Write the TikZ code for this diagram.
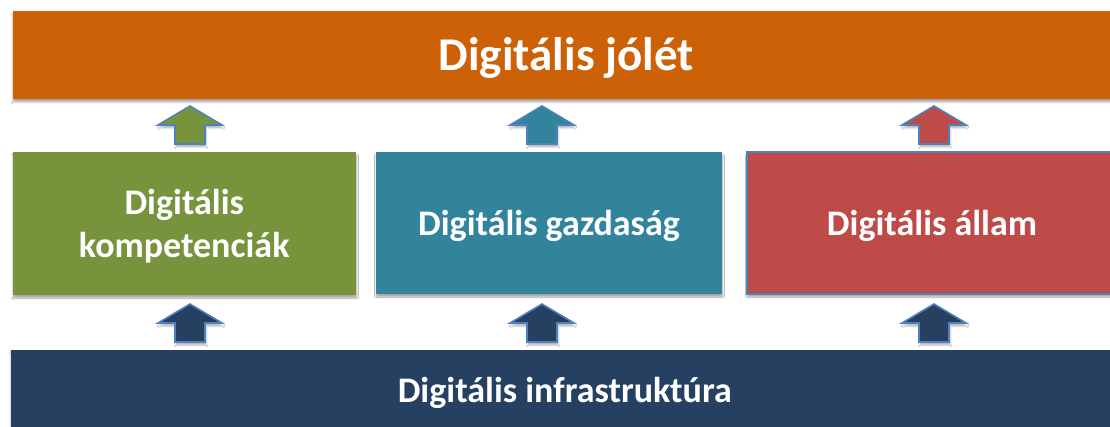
\documentclass[tikz,border=0pt]{standalone}
\usepackage{fontspec}
\setmainfont{Carlito}
\usetikzlibrary{shadows.blur}
\definecolor{cOrange}{HTML}{CD6108}
\definecolor{cGreen}{HTML}{77933C}
\definecolor{cTeal}{HTML}{31849B}
\definecolor{cRed}{HTML}{BE4B48}
\definecolor{cNavy}{HTML}{254061}
\definecolor{cOutline}{HTML}{4F81BD}
\tikzset{
  box/.style={rectangle, inner sep=0pt,
    blur shadow={shadow xshift=0.5pt, shadow yshift=-3pt, shadow blur steps=6, shadow opacity=35}},
  boxtext/.style={inner sep=0pt, text=white, font=\bfseries\fontsize{36}{43}\selectfont, align=center},
  blockarrow/.style={draw=cOutline, line width=1.6pt, line join=miter,
    blur shadow={shadow xshift=1pt, shadow yshift=-3pt, shadow blur steps=5, shadow opacity=30}},
  uparrow/.pic={\path[blockarrow, pic actions] (0,0) -- (32,19) -- (15,19) -- (15,38) -- (-15,38) -- (-15,19) -- (-32,19) -- cycle;}
}
\begin{document}
\begin{tikzpicture}[x=1pt,y=-1pt]
\useasboundingbox[fill=white] (0,0) rectangle (1110,427);
% boxes
\node[box, fill=cOrange, minimum width=1104.5pt, minimum height=87.5pt] (jolet) at (564.75,55.25) {};
\node[box, fill=cGreen, minimum width=343.5pt, minimum height=143pt] (komp) at (184.25,223.5) {};
\node[box, fill=cTeal, minimum width=346pt, minimum height=142pt] (gazd) at (549,223) {};
\node[box, fill=cRed, draw=cOutline, line width=1.2pt, minimum width=370pt, minimum height=142pt] (allam) at (932,223) {};
\node[box, fill=cNavy, minimum width=1106.5pt, minimum height=80pt] (infra) at (563.75,390) {};
% texts
\node[boxtext, font=\bfseries\fontsize{47}{56}\selectfont] (joletT) at ([xshift=1.5pt,yshift=-3pt]jolet.center) {Digitális jólét};
\node[boxtext] (kompT) at ([yshift=-3pt]komp.center) {Digitális\\kompetenciák};
\node[boxtext] (gazdT) at ([yshift=-3pt]gazd.center) {Digitális gazdaság};
\node[boxtext] (allamT) at ([yshift=-3pt]allam.center) {Digitális állam};
\node[boxtext] (infraT) at ([xshift=1pt,yshift=-3pt]infra.center) {Digitális infrastruktúra};
% upper arrows
\pic[fill=cGreen] (a1) at (190,106) {uparrow};
\pic[fill=cTeal] (a2) at (542,106) {uparrow};
\pic[fill=cRed] (a3) at (934,106) {uparrow};
% lower arrows
\pic[fill=cNavy] (b1) at (190,304) {uparrow};
\pic[fill=cNavy] (b2) at (542,304) {uparrow};
\pic[fill=cNavy] (b3) at (934,304) {uparrow};
\end{tikzpicture}
\end{document}
